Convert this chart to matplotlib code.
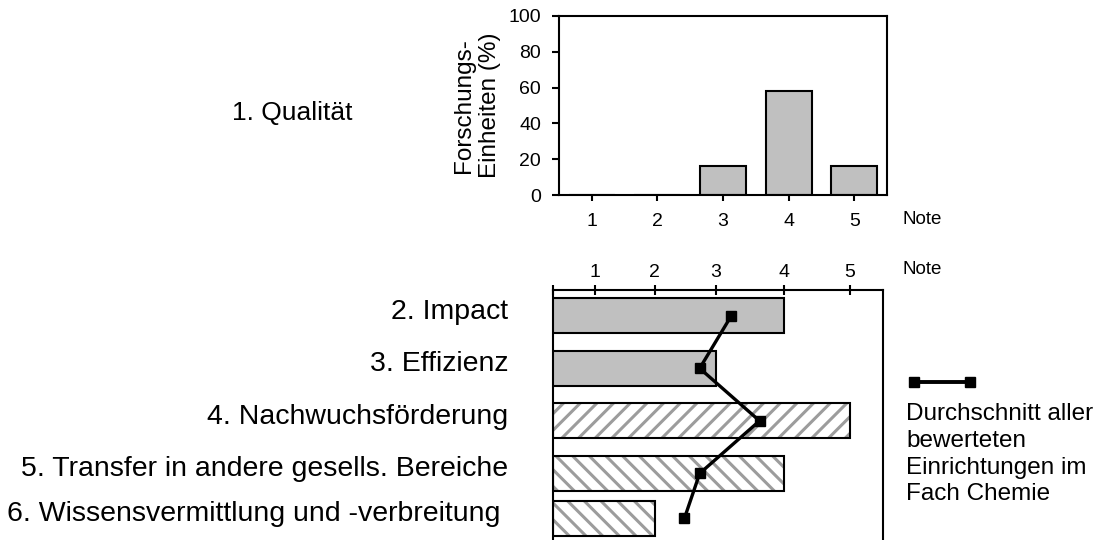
import numpy as np
import matplotlib
matplotlib.use("Agg")
import matplotlib.pyplot as plt
from matplotlib.lines import Line2D
import matplotlib.transforms as mtransforms

plt.rcParams['font.family'] = ['Liberation Sans', 'DejaVu Sans']
plt.rcParams['hatch.linewidth'] = 2.2

# ---- data ----
grades = [1, 2, 3, 4, 5]
quality_pct = [0, 0, 16, 58, 16]

criteria = ["2. Impact", "3. Effizienz", "4. Nachwuchsförderung",
            "5. Transfer in andere gesells. Bereiche",
            "6. Wissensvermittlung und -verbreitung"]
criteria_grade = [4, 3, 5, 4, 2]
criteria_avg = [3.23, 2.74, 3.64, 2.74, 2.49]

# ---- layout / style (not data) ----
W, H = 1099, 540
fig = plt.figure(figsize=(W / 100, H / 100), dpi=100)

def frac(left, top, right, bottom):
    return [left / W, 1 - bottom / H, (right - left) / W, (bottom - top) / H]

# Top chart
ax1 = fig.add_axes(frac(559, 16, 887, 195))
ax1.bar(grades, quality_pct, width=0.7, color='#c0c0c0', edgecolor='black', linewidth=1.5, zorder=2)
ax1.set_xlim(0.5, 5.5)
ax1.set_ylim(0, 100)
ax1.set_yticks(range(0, 101, 20))
ax1.set_xticks(grades)
ax1.tick_params(axis='y', direction='out', length=5, width=1.5, labelsize=14, pad=8)
ax1.tick_params(axis='x', direction='out', length=4, width=1.5, labelsize=14, pad=9)
for s in ax1.spines.values():
    s.set_linewidth(1.5)
ax1.set_ylabel("Forschungs-\nEinheiten (%)", fontsize=17.5, labelpad=5, linespacing=1.25)
fig.text(902 / W, 1 - 220 / H, "Note", fontsize=13.5, va='center', ha='left')
fig.text(232 / W, 1 - 113 / H, "1. Qualität", fontsize=19, va='center', ha='left')

# Bottom chart with the original's uneven grade ruler
vals = [0, 1, 2, 3, 4, 5, 5.5]
pix = [553, 595, 655, 716, 785, 851, 884]
fwd = lambda v: np.interp(v, vals, pix)
inv = lambda p: np.interp(p, pix, vals)

ax2 = fig.add_axes(frac(553, 290, 883, 547))
ax2.set_xscale('function', functions=(fwd, inv))
ypos = [0, 1, 2, 3, 3.85]
styles = [dict(fc='#c0c0c0', hatch=None), dict(fc='#c0c0c0', hatch=None),
          dict(fc='white', hatch='//'), dict(fc='white', hatch='\\\\'),
          dict(fc='white', hatch='\\\\')]
for y, v, st in zip(ypos, criteria_grade, styles):
    if st['hatch']:
        ax2.barh(y, v, height=0.667, color='white', edgecolor='#9c9c9c', hatch=st['hatch'],
                 linewidth=0, zorder=2)
        ax2.barh(y, v, height=0.667, fill=False, edgecolor='black', linewidth=1.5, zorder=3)
    else:
        ax2.barh(y, v, height=0.667, color=st['fc'], edgecolor='black', linewidth=1.5, zorder=3)
ax2.plot(criteria_avg, ypos, color='black', lw=2.4, marker='s', markersize=7, zorder=5)
ax2.set_xlim(0, 5.5)
ax2.set_ylim(4.4, -0.49)
ax2.xaxis.tick_top()
ax2.set_xticks([0, 1, 2, 3, 4, 5], ['', '1', '2', '3', '4', '5'])
ax2.tick_params(axis='x', direction='inout', length=7, width=1.5, labelsize=14, pad=3)
ax2.set_yticks(ypos, criteria)
ax2.tick_params(axis='y', length=0, labelsize=20.5, pad=32)
labs = ax2.get_yticklabels()
for i, lab in enumerate(labs):
    dx = -8 / 100 if i == len(labs) - 1 else 0
    off = mtransforms.ScaledTranslation(dx, 7 / 100, fig.dpi_scale_trans)
    lab.set_transform(lab.get_transform() + off)
ax2.spines['bottom'].set_visible(False)
for s in ax2.spines.values():
    s.set_linewidth(1.5)
fig.text(902 / W, 1 - 270 / H, "Note", fontsize=13.5, va='center', ha='left')

# Legend-like annotation
ly = 1 - 382 / H
fig.add_artist(Line2D([914 / W, 970 / W], [ly, ly], transform=fig.transFigure,
                      color='black', lw=2.8, marker='s', markersize=7))
fig.text(906 / W, 1 - 403 / H, "Durchschnitt aller\nbewerteten\nEinrichtungen im\nFach Chemie",
         fontsize=17.5, va='top', ha='left', linespacing=1.28)

fig.savefig("out.png", dpi=100)
